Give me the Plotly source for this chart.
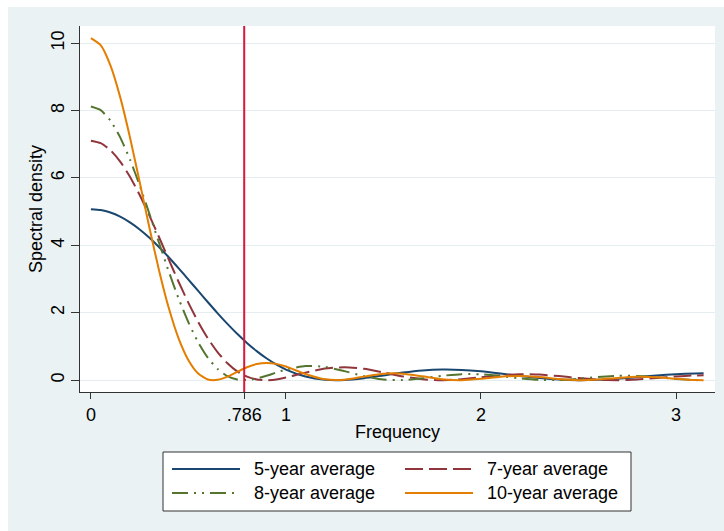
import plotly.graph_objects as go

# ---------------- data ----------------
freq = [0.00, 0.05, 0.10, 0.15, 0.20, 0.25, 0.30, 0.35, 0.40, 0.45, 0.50,
        0.55, 0.60, 0.65, 0.70, 0.75, 0.80, 0.85, 0.90, 0.95, 1.00,
        1.1, 1.2, 1.3, 1.4, 1.5, 1.6, 1.7, 1.8, 1.9, 2.0,
        2.1, 2.2, 2.3, 2.4, 2.5, 2.6, 2.7, 2.8, 2.9, 3.0, 3.1, 3.1416]

ma5 = [5.075, 5.049, 4.974, 4.851, 4.681, 4.471, 4.224, 3.945, 3.642, 3.320, 2.987,
       2.649, 2.313, 1.985, 1.672, 1.377, 1.107, 0.863, 0.650, 0.467, 0.316,
       0.108, 0.013, 0.006, 0.060, 0.143, 0.226, 0.288, 0.316, 0.306, 0.264,
       0.199, 0.127, 0.063, 0.018, 0.000, 0.010, 0.043, 0.090, 0.140, 0.180, 0.201, 0.203]

ma7 = [7.105, 7.033, 6.825, 6.488, 6.038, 5.496, 4.885, 4.234, 3.568, 2.913, 2.294,
       1.729, 1.237, 0.828, 0.502, 0.263, 0.107, 0.023, 0.000, 0.023, 0.078,
       0.225, 0.346, 0.385, 0.337, 0.230, 0.112, 0.028, 0.000, 0.028, 0.088,
       0.148, 0.178, 0.167, 0.122, 0.063, 0.016, 0.000, 0.020, 0.065, 0.113, 0.142, 0.145]

ma8 = [8.120, 8.012, 7.703, 7.205, 6.551, 5.780, 4.935, 4.064, 3.212, 2.417, 1.714,
       1.125, 0.663, 0.331, 0.121, 0.019, 0.003, 0.049, 0.131, 0.227, 0.316,
       0.421, 0.395, 0.270, 0.122, 0.021, 0.003, 0.055, 0.130, 0.180, 0.175,
       0.123, 0.055, 0.008, 0.004, 0.042, 0.094, 0.128, 0.125, 0.087, 0.037, 0.003, 0.000]

ma10 = [10.150, 9.940, 9.340, 8.400, 7.211, 5.881, 4.522, 3.242, 2.126, 1.234, 0.594,
        0.200, 0.023, 0.012, 0.106, 0.247, 0.383, 0.478, 0.513, 0.485, 0.406,
        0.185, 0.025, 0.013, 0.106, 0.192, 0.193, 0.115, 0.028, 0.001, 0.042,
        0.104, 0.128, 0.093, 0.034, 0.001, 0.019, 0.069, 0.103, 0.090, 0.043, 0.004, 0.000]

series_names = ["5-year average", "7-year average", "8-year average", "10-year average"]
series_vals = [ma5, ma7, ma8, ma10]
series_colors = ["#1A476F", "#90353B", "#55752F", "#E37E00"]
series_dash = ["solid", "18px,6px", "16px,6px,2px,6px,2px,6px", "solid"]

xtick_vals = [0, 0.786, 1, 2, 3]
xtick_text = ["0", ".786", "1", "2", "3"]
ytick_vals = [0, 2, 4, 6, 8, 10]
cutoff = 0.786

# ---------------- layout geometry ----------------
W, H = 724, 531
L, R, T, B = 80, 9, 26, 139
PW, PH = W - L - R, H - T - B


def px(x):
    return (x - L) / PW


def py(y):
    return (H - B - y) / PH


FONT = "Liberation Sans, Arial, sans-serif"
BG = "#EAF2F3"

fig = go.Figure()
for name, vals, col, dash in zip(series_names, series_vals, series_colors, series_dash):
    fig.add_trace(go.Scatter(x=freq, y=vals, mode="lines", name=name,
                             line=dict(color=col, width=2, dash=dash, shape="spline", smoothing=0.6)))

shapes = []
# white strips at top/left outside the Stata background
shapes.append(dict(type="rect", xref="paper", yref="paper", x0=px(0), x1=px(W), y0=py(7), y1=py(0),
                   fillcolor="white", line=dict(width=0), layer="below"))
shapes.append(dict(type="rect", xref="paper", yref="paper", x0=px(0), x1=px(8), y0=py(H), y1=py(0),
                   fillcolor="white", line=dict(width=0), layer="below"))
# cutoff line
shapes.append(dict(type="line", xref="x", yref="paper", x0=cutoff, x1=cutoff, y0=0, y1=1,
                   line=dict(color="#D6173E", width=2), layer="above"))
# legend box
shapes.append(dict(type="rect", xref="paper", yref="paper", x0=px(163), x1=px(631), y0=py(511), y1=py(452),
                   fillcolor="white", line=dict(color="#333333", width=1), layer="above"))

annotations = []
leg_pos = [(172, 469), (405, 469), (172, 493), (405, 493)]
for (lx, ly), name, col, dash in zip(leg_pos, series_names, series_colors, series_dash):
    shapes.append(dict(type="line", xref="paper", yref="paper", x0=px(lx), x1=px(lx + 68), y0=py(ly), y1=py(ly),
                       line=dict(color=col, width=2, dash=dash), layer="above"))
    annotations.append(dict(xref="paper", yref="paper", x=px(lx + 80), y=py(ly), text=name, showarrow=False,
                            xanchor="left", yanchor="middle", font=dict(family=FONT, size=18, color="black")))

fig.update_layout(
    width=W, height=H,
    margin=dict(l=L, r=R, t=T, b=B, autoexpand=False),
    paper_bgcolor=BG, plot_bgcolor="white",
    showlegend=False,
    font=dict(family=FONT, size=18, color="black"),
    shapes=shapes, annotations=annotations,
    xaxis=dict(range=[-0.056, 3.2], tickvals=xtick_vals, ticktext=xtick_text,
               ticks="outside", ticklen=6, tickcolor="#333333", tickwidth=1,
               showline=True, linecolor="#333333", linewidth=1,
               showgrid=False, zeroline=False, tickfont=dict(size=18),
               title=dict(text="Frequency", standoff=1, font=dict(size=18))),
    yaxis=dict(range=[-0.35, 10.51], tickvals=ytick_vals, tickangle=-90,
               ticks="outside", ticklen=8, tickcolor="#333333", tickwidth=1,
               showline=True, linecolor="#333333", linewidth=1,
               showgrid=True, gridcolor="#E4EDEF", gridwidth=1, zeroline=False,
               tickfont=dict(size=18),
               title=dict(text="Spectral density", standoff=0, font=dict(size=18))),
)

fig.write_html("out.html")
